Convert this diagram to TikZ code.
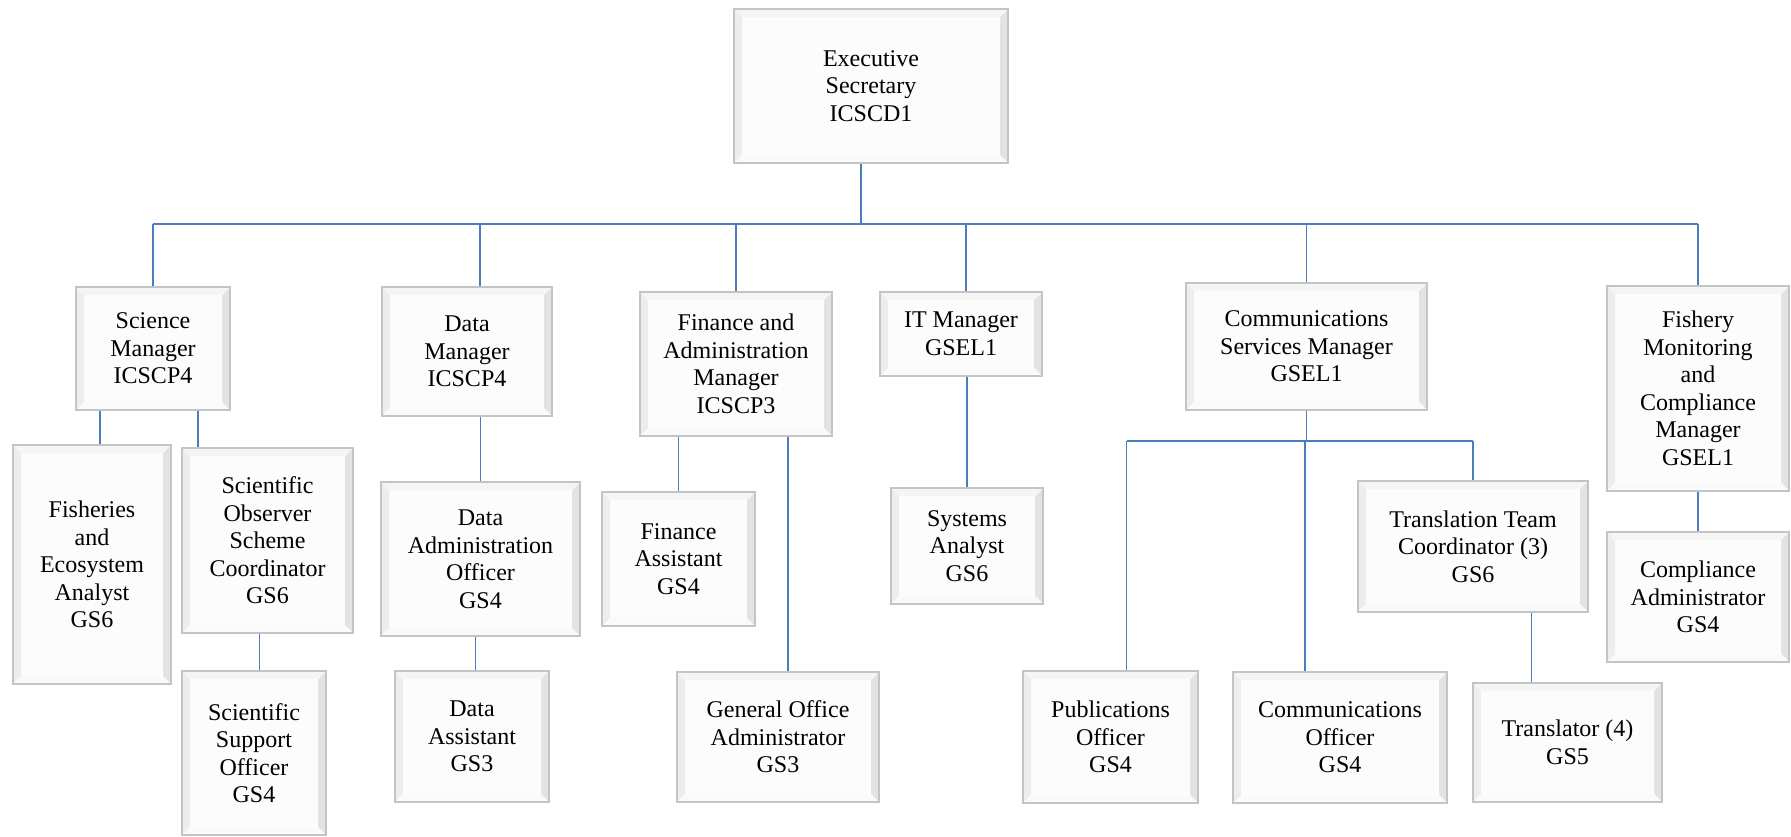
\documentclass[tikz,border=0pt]{standalone}
\usepackage{fontspec}
\setmainfont{Liberation Serif}
\definecolor{linkblue}{HTML}{4A7EBB}
\definecolor{boxedge}{HTML}{C4C4C4}
\definecolor{boxfill}{HTML}{FCFCFC}
\tikzset{
  conn/.style={draw=linkblue, line width=1.5pt},
  orgbox/.style={rectangle, draw=boxedge, line width=1.3pt, fill=boxfill,
    inner sep=0pt, align=center, font=\fontsize{24}{27.5}\selectfont,
    path picture={
      \fill[black!7] (path picture bounding box.north west) -- ([xshift=8pt,yshift=-8pt]path picture bounding box.north west) -- ([xshift=8pt,yshift=8pt]path picture bounding box.south west) -- (path picture bounding box.south west) -- cycle;
      \fill[black!11] (path picture bounding box.north east) -- ([xshift=-8pt,yshift=-8pt]path picture bounding box.north east) -- ([xshift=-8pt,yshift=8pt]path picture bounding box.south east) -- (path picture bounding box.south east) -- cycle;
      \fill[black!4] (path picture bounding box.north west) -- (path picture bounding box.north east) -- ([xshift=-8pt,yshift=-8pt]path picture bounding box.north east) -- ([xshift=8pt,yshift=-8pt]path picture bounding box.north west) -- cycle;
      \fill[black!2] (path picture bounding box.south west) -- (path picture bounding box.south east) -- ([xshift=-8pt,yshift=8pt]path picture bounding box.south east) -- ([xshift=8pt,yshift=8pt]path picture bounding box.south west) -- cycle;
    }}
}
\newcommand\orgbx[6]{\node[orgbox, minimum width={(#4-#2)*1pt}, minimum height={(#5-#3)*1pt}] (#1) at ({(#2+#4)/2},{(#3+#5)/2}) {#6};}
\begin{document}
\begin{tikzpicture}[x=1pt,y=-1pt]
\useasboundingbox (0,0) rectangle (1791,836);
\orgbx{exec}{734}{9}{1008}{163}{Executive\\Secretary\\ICSCD1}
\orgbx{sci}{76}{287}{230}{410}{Science\\Manager\\ICSCP4}
\orgbx{dm}{382}{287}{552}{416}{Data\\Manager\\ICSCP4}
\orgbx{fin}{640}{292}{832}{436}{Finance and\\Administration\\Manager\\ICSCP3}
\orgbx{it}{880}{292}{1042}{376}{IT Manager\\GSEL1}
\orgbx{csm}{1186}{283}{1427}{410}{Communications\\Services Manager\\GSEL1}
\orgbx{fm}{1607}{286}{1789}{491}{Fishery\\Monitoring\\and\\Compliance\\Manager\\GSEL1}
\orgbx{fea}{13}{445}{171}{684}{Fisheries\\and\\Ecosystem\\Analyst\\GS6}
\orgbx{sosc}{182}{448}{353}{633}{Scientific\\Observer\\Scheme\\Coordinator\\GS6}
\orgbx{sso}{182}{671}{326}{835}{Scientific\\Support\\Officer\\GS4}
\orgbx{da}{381}{482}{580}{636}{Data\\Administration\\Officer\\GS4}
\orgbx{das}{395}{671}{549}{802}{Data\\Assistant\\GS3}
\orgbx{fa}{602}{492}{755}{626}{Finance\\Assistant\\GS4}
\orgbx{goa}{677}{672}{879}{802}{General Office\\Administrator\\GS3}
\orgbx{sa}{891}{488}{1043}{604}{Systems\\Analyst\\GS6}
\orgbx{pub}{1023}{671}{1198}{803}{Publications\\Officer\\GS4}
\orgbx{co}{1233}{672}{1447}{803}{Communications\\Officer\\GS4}
\orgbx{ttc}{1358}{481}{1588}{612}{Translation Team\\Coordinator (3)\\GS6}
\orgbx{tr}{1473}{683}{1662}{802}{Translator (4)\\GS5}
\orgbx{ca}{1607}{532}{1789}{662}{Compliance\\Administrator\\GS4}
\coordinate (bus) at (861,224);
\coordinate (sub) at (1305,441);
% top level
\draw[conn] ([xshift=-10pt]exec.south) -- ([xshift=-10pt]exec.south |- bus);
\draw[conn] (sci.north |- bus) -- (fm.north |- bus);
\draw[conn] (sci.north |- bus) -- (sci.north);
\draw[conn] ([xshift=13pt]dm.north |- bus) -- ([xshift=13pt]dm.north);
\draw[conn] (fin.north |- bus) -- (fin.north);
\draw[conn] ([xshift=5pt]it.north |- bus) -- ([xshift=5pt]it.north);
\draw[conn] (csm.north |- bus) -- (csm.north);
\draw[conn] (fm.north |- bus) -- (fm.north);
% science
\draw[conn] ([xshift=8pt]sci.south -| fea.north) -- ([xshift=8pt]fea.north);
\draw[conn] ([xshift=45pt]sci.south) -- ([xshift=45pt]sci.south |- sosc.north);
\draw[conn] ([xshift=-8pt]sosc.south) -- ([xshift=-8pt]sosc.south |- sso.north);
% data
\draw[conn] (dm.south -| da.north) -- (da.north);
\draw[conn] ([xshift=-5pt]da.south) -- ([xshift=-5pt]da.south |- das.north);
% finance
\draw[conn] (fin.south -| fa.north) -- (fa.north);
\draw[conn] ([xshift=52pt]fin.south) -- ([xshift=52pt]fin.south |- goa.north);
% IT
\draw[conn] (it.south -| sa.north) -- (sa.north);
% communications
\draw[conn] (csm.south) -- (csm.south |- sub);
\draw[conn] ([xshift=16pt]pub.north |- sub) -- (ttc.north |- sub);
\draw[conn] ([xshift=16pt]pub.north |- sub) -- ([xshift=16pt]pub.north);
\draw[conn] ([xshift=-35pt]co.north |- sub) -- ([xshift=-35pt]co.north);
\draw[conn] (ttc.north |- sub) -- (ttc.north);
\draw[conn] ([xshift=-36pt]tr.north |- ttc.south) -- ([xshift=-36pt]tr.north);
% fishery monitoring
\draw[conn] (fm.south) -- (ca.north);
\end{tikzpicture}
\end{document}
